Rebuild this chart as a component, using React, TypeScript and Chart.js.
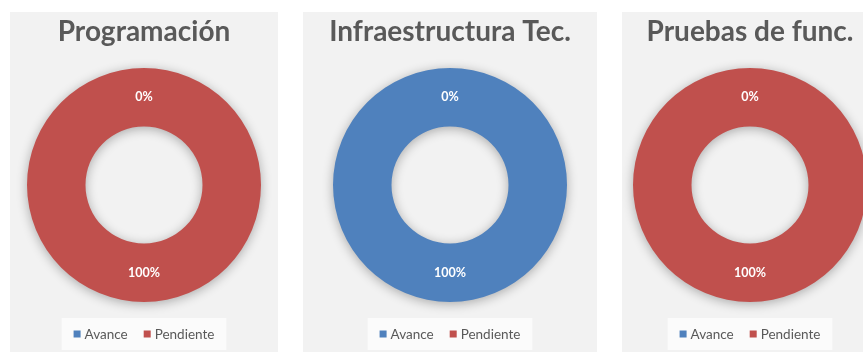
import { useEffect, useRef } from 'react';
import { Chart, registerables } from 'chart.js';

Chart.register(...registerables);

// Chart content
const titles = ['Programación', 'Infraestructura Tec.', 'Pruebas de func.'];
const seriesNames = ['Avance', 'Pendiente'];
const avance = [0, 100, 0];
const pendiente = [100, 0, 100];

const seriesColors = ['#4F81BD', '#C0504D'];
const FONT = 'Lato, "Open Sans", sans-serif';

// Panel placement on the page
const panelBoxes = [
  { left: 10, width: 268 },
  { left: 303, width: 294 },
  { left: 622, width: 256 },
];
const PANEL_TOP = 12;
const PANEL_HEIGHT = 340;

// Soft shadow under the ring
const ringShadow = {
  id: 'ringShadow',
  beforeDatasetDraw(chart: any) {
    const ctx = chart.ctx;
    ctx.save();
    ctx.shadowColor = 'rgba(0,0,0,0.3)';
    ctx.shadowBlur = 11;
    ctx.shadowOffsetY = 2;
  },
  afterDatasetDraw(chart: any) {
    chart.ctx.restore();
  },
};

// Percentage label at the middle of each slice (zero slices sit at the seam)
const sliceLabels = {
  id: 'sliceLabels',
  afterDatasetsDraw(chart: any) {
    const ctx = chart.ctx;
    const data = chart.data.datasets[0].data as number[];
    const total = data.reduce((a, b) => a + b, 0) || 1;
    const meta = chart.getDatasetMeta(0);
    ctx.save();
    ctx.fillStyle = '#ffffff';
    ctx.font = `bold 12.5px ${FONT}`;
    ctx.textAlign = 'center';
    ctx.textBaseline = 'middle';
    meta.data.forEach((arc: any, i: number) => {
      const p = arc.getProps(['x', 'y', 'startAngle', 'endAngle', 'innerRadius', 'outerRadius'], true);
      const a = (p.startAngle + p.endAngle) / 2;
      const r = (p.innerRadius + p.outerRadius) / 2;
      const pct = Math.round((data[i] / total) * 100);
      ctx.fillText(`${pct}%`, p.x + Math.cos(a) * r, p.y + Math.sin(a) * r);
    });
    ctx.restore();
  },
};

// Legend row centred under the ring, on a light strip
const bottomLegend = {
  id: 'bottomLegend',
  afterDraw(chart: any) {
    const ctx = chart.ctx;
    const cx = (chart.chartArea.left + chart.chartArea.right) / 2;
    const cy = 322;
    const box = 7;
    const gap = 4;
    const itemGap = 16;
    ctx.save();
    ctx.font = `13.5px ${FONT}`;
    const widths = seriesNames.map((s) => box + gap + ctx.measureText(s).width);
    const total = widths.reduce((a, b) => a + b, 0) + itemGap * (seriesNames.length - 1);
    ctx.fillStyle = 'rgba(255,255,255,0.65)';
    ctx.fillRect(cx - total / 2 - 12, cy - 16, total + 24, 32);
    let x = cx - total / 2;
    ctx.textBaseline = 'middle';
    ctx.textAlign = 'left';
    seriesNames.forEach((s, i) => {
      ctx.fillStyle = seriesColors[i];
      ctx.fillRect(x, cy - box / 2, box, box);
      ctx.fillStyle = '#595959';
      ctx.fillText(s, x + box + gap, cy + 0.5);
      x += widths[i] + itemGap;
    });
    ctx.restore();
  },
};

function DonutPanel({ index }: { index: number }) {
  const ref = useRef<HTMLCanvasElement | null>(null);
  const { left, width } = panelBoxes[index];

  useEffect(() => {
    if (!ref.current) return;
    const chart = new Chart(ref.current, {
      type: 'doughnut',
      data: {
        labels: seriesNames,
        datasets: [
          {
            data: [avance[index], pendiente[index]],
            backgroundColor: seriesColors,
            borderWidth: 0,
          },
        ],
      },
      options: {
        animation: false,
        responsive: false,
        cutout: '50%',
        layout: { padding: { top: 0, bottom: 50, left: 0, right: 0 } },
        plugins: {
          legend: { display: false },
          tooltip: { enabled: false },
          title: {
            display: true,
            text: titles[index],
            color: '#595959',
            font: { family: FONT, size: 28, weight: 'bold', lineHeight: 1.2 },
            padding: { top: 3, bottom: 19.4 },
          },
        },
      },
      plugins: [ringShadow, sliceLabels, bottomLegend],
    });
    return () => chart.destroy();
  }, [index]);

  return (
    <div
      style={{
        position: 'absolute',
        left,
        top: PANEL_TOP,
        width,
        height: PANEL_HEIGHT,
        background: '#f2f2f2',
      }}
    >
      <canvas ref={ref} width={width} height={PANEL_HEIGHT} style={{ display: 'block' }} />
    </div>
  );
}

export default function App() {
  return (
    <div
      style={{
        position: 'fixed',
        left: 0,
        top: 0,
        width: 863,
        height: 352,
        background: '#ffffff',
        overflow: 'hidden',
      }}
    >
      {titles.map((_, i) => (
        <DonutPanel key={i} index={i} />
      ))}
    </div>
  );
}
